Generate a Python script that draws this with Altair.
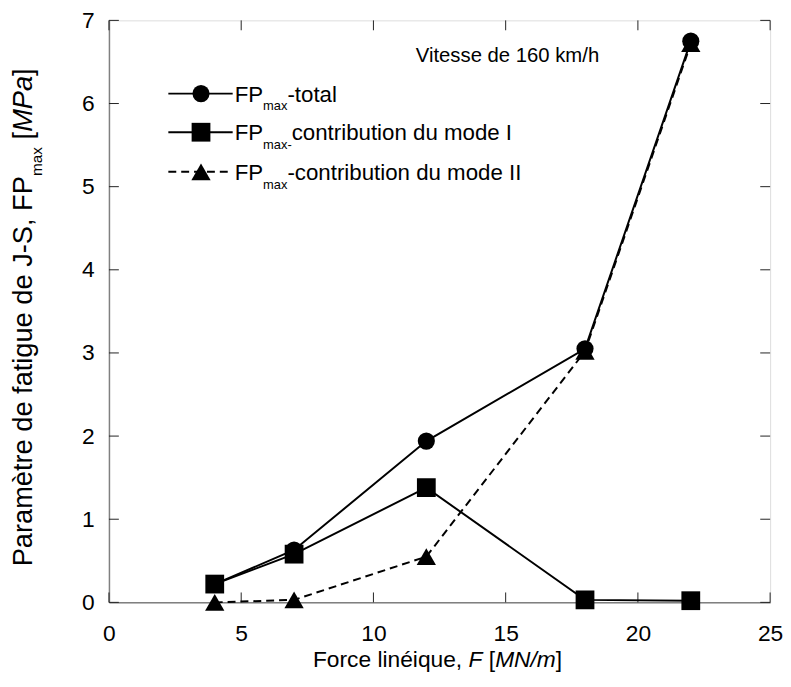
import altair as alt
import pandas as pd

# ---------------- data ----------------
force = [4, 7, 12, 18, 22]
fp_total = [0.22, 0.63, 1.94, 3.05, 6.75]
fp_mode1 = [0.22, 0.58, 1.38, 0.03, 0.02]
fp_mode2 = [0.00, 0.03, 0.55, 3.02, 6.72]

x_ticks = [0, 5, 10, 15, 20, 25]
y_ticks = [0, 1, 2, 3, 4, 5, 6, 7]

FONT = "Liberation Sans"
W, H = 668, 588

# Arial / Liberation Sans advance widths (per 1000 em)
AW = {' ': 278, '-': 333, ',': 278, '/': 278, '[': 278, ']': 278, '.': 278,
      'A': 667, 'B': 667, 'C': 722, 'D': 722, 'E': 667, 'F': 611, 'G': 778, 'H': 722,
      'I': 278, 'J': 500, 'K': 667, 'L': 556, 'M': 833, 'N': 722, 'O': 778, 'P': 667,
      'Q': 778, 'R': 722, 'S': 667, 'T': 611, 'U': 722, 'V': 667, 'W': 944,
      'a': 556, 'b': 556, 'c': 500, 'd': 556, 'e': 556, 'f': 278, 'g': 556, 'h': 556,
      'i': 222, 'j': 222, 'k': 500, 'l': 222, 'm': 833, 'n': 556, 'o': 556, 'p': 556,
      'q': 556, 'r': 333, 's': 500, 't': 278, 'u': 556, 'v': 500, 'w': 722, 'x': 500,
      'y': 500, 'z': 500, 'è': 556, 'é': 556}


def tw(s, size):
    return sum(AW.get(c, 556) for c in s) * size / 1000.0


def txt(s, x, y, size, style="normal", angle=0, align="left", baseline="alphabetic"):
    return alt.Chart(alt.Data(values=[{}])).mark_text(
        text=s, font=FONT, fontSize=size, fontStyle=style, align=align,
        baseline=baseline, angle=angle, color="black"
    ).encode(x=alt.value(x), y=alt.value(y))


def run(pieces, x0, y0, vertical=False):
    """Lay out consecutive text runs; spaces only advance the pen (SVG strips them)."""
    layers = []
    pos = 0.0
    for s, size, style, sub in pieces:
        lead = len(s) - len(s.lstrip(" "))
        p = pos + tw(" " * lead, size)
        core = s.strip(" ")
        if core:
            if vertical:
                layers.append(txt(core, x0 + sub, y0 - p, size, style, angle=270))
            else:
                layers.append(txt(core, x0 + p, y0 + sub, size, style))
        pos += tw(s, size)
    return layers, pos


def total_width(pieces):
    return sum(tw(s, size) for s, size, _, _ in pieces)


xs = alt.Scale(domain=[0, 25], nice=False, zero=False)
ys = alt.Scale(domain=[0, 7], nice=False, zero=False)

df_t = pd.DataFrame({"F": force, "v": fp_total})
df_1 = pd.DataFrame({"F": force, "v": fp_mode1})
df_2 = pd.DataFrame({"F": force, "v": fp_mode2})

X = alt.X("F:Q", scale=xs, axis=alt.Axis(values=x_ticks, ticks=False, grid=False, title=None, format="d",
                                         labelFontSize=23, labelFont=FONT, labelColor="black",
                                         labelPadding=21, labelFlush=False, domainColor="#808080",
                                         domainWidth=1.5))
Y = alt.Y("v:Q", scale=ys, axis=alt.Axis(values=y_ticks, ticks=False, grid=False, title=None, format="d",
                                         labelFontSize=23, labelFont=FONT, labelColor="black",
                                         labelPadding=15, domainColor="#808080", domainWidth=1.5))

base_line = dict(color="black", strokeWidth=2)
l_t = alt.Chart(df_t).mark_line(**base_line).encode(x=X, y=Y)
l_1 = alt.Chart(df_1).mark_line(**base_line).encode(x=X, y=Y)
l_2 = alt.Chart(df_2).mark_line(strokeDash=[8, 5], **base_line).encode(x=X, y=Y)

S_CIR, S_SQ, S_TRI = 300, 360, 380
p_2 = alt.Chart(df_2).mark_point(shape="triangle-up", size=S_TRI, filled=True, color="black", opacity=1).encode(x=X, y=Y)
p_t = alt.Chart(df_t).mark_point(shape="circle", size=S_CIR, filled=True, color="black", opacity=1).encode(x=X, y=Y)
p_1 = alt.Chart(df_1).mark_point(shape="square", size=S_SQ, filled=True, color="black", opacity=1).encode(x=X, y=Y)

# inward ticks on all four sides
tx = pd.DataFrame({"F": x_ticks})
ty = pd.DataFrame({"v": y_ticks})
tk = dict(color="#222222", strokeWidth=1)
t_bot = alt.Chart(tx).mark_rule(**tk).encode(x=alt.X("F:Q", scale=xs), y=alt.value(H), y2=alt.value(H - 10))
t_top = alt.Chart(tx).mark_rule(**tk).encode(x=alt.X("F:Q", scale=xs), y=alt.value(0), y2=alt.value(10))
t_lef = alt.Chart(ty).mark_rule(**tk).encode(y=alt.Y("v:Q", scale=ys), x=alt.value(0), x2=alt.value(10))
t_rig = alt.Chart(ty).mark_rule(**tk).encode(y=alt.Y("v:Q", scale=ys), x=alt.value(W), x2=alt.value(W - 10))

layers = [t_bot, t_top, t_lef, t_rig, l_t, l_1, l_2, p_2, p_t, p_1]

# ---------------- legend (custom, inside plot) ----------------
leg_rows = [74, 113, 153]
LX1, LX2, LM, LT = 60, 125, 93, 127
FS, SS = 22.5, 13
legend_text = [
    [("FP", FS, "normal", 0), ("max", SS, "normal", 9), ("-total", FS, "normal", 0)],
    [("FP", FS, "normal", 0), ("max-", SS, "normal", 9), ("contribution du mode I", FS, "normal", 0)],
    [("FP", FS, "normal", 0), ("max", SS, "normal", 9), ("-contribution du mode II", FS, "normal", 0)],
]
shapes = ["circle", "square", "triangle-up"]
sizes = [S_CIR, S_SQ, S_TRI]
for i, yy in enumerate(leg_rows):
    rule = alt.Chart(alt.Data(values=[{}])).mark_rule(
        color="black", strokeWidth=2, strokeDash=([8, 5] if i == 2 else [1, 0])
    ).encode(x=alt.value(LX1), x2=alt.value(LX2), y=alt.value(yy))
    pt = alt.Chart(alt.Data(values=[{}])).mark_point(
        shape=shapes[i], size=sizes[i], filled=True, color="black", opacity=1
    ).encode(x=alt.value(LM), y=alt.value(yy))
    layers += [rule, pt]
    tl, _ = run(legend_text[i], LT, yy + 8)
    layers += tl

# annotation
layers.append(txt("Vitesse de 160 km/h", 310, 42, 20.5))

# ---------------- axis titles with mixed styles ----------------
XF = 23
xt_pieces = [("Force linéique, ", XF, "normal", 0), ("F", XF, "italic", 0), (" [", XF, "normal", 0),
             ("MN/m", XF, "italic", 0), ("]", XF, "normal", 0)]
xw = total_width(xt_pieces)
tl, _ = run(xt_pieces, 332 - xw / 2, 653)
layers += tl

YF = 27.5
yt_pieces = [("Paramètre de fatigue de J-S, FP", YF, "normal", 0), ("max", 15.5, "normal", 10),
             (" [", YF, "normal", 0), ("MPa", YF, "italic", 0), ("]", YF, "normal", 0)]
yw = total_width(yt_pieces)
tl, _ = run(yt_pieces, -78, 300 + yw / 2, vertical=True)
layers += tl

chart = alt.layer(*layers).properties(
    width=W, height=H, autosize="none",
    padding={"left": 102, "top": 9, "right": 13, "bottom": 82}
).configure_view(stroke="black", strokeWidth=1.5).configure(background="white")

chart.save("out.html", embed_options={"renderer": "svg", "actions": False})
